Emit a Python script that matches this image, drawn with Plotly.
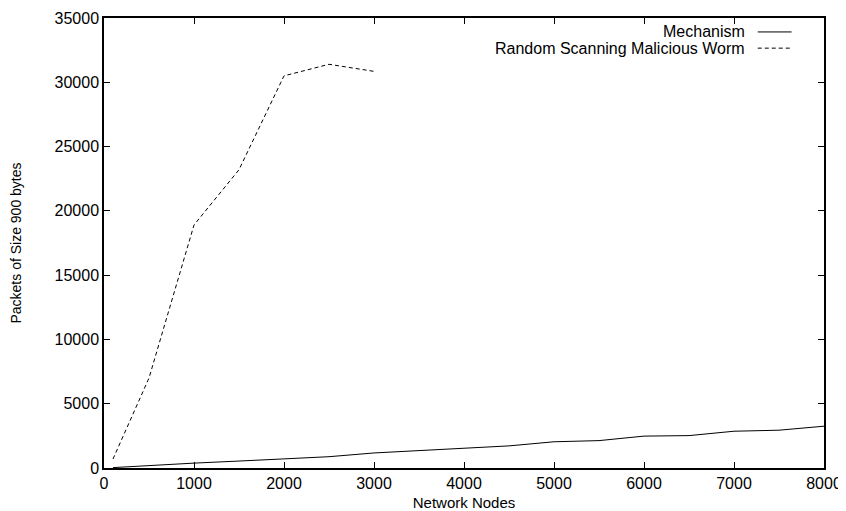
import plotly.graph_objects as go

nodes = [100, 500, 1000, 1500, 2000, 2500, 3000, 3500, 4000, 4500, 5000, 5500, 6000, 6500, 7000, 7500, 8000]
mechanism = [30, 200, 380, 540, 720, 880, 1170, 1340, 1560, 1720, 2040, 2130, 2480, 2520, 2860, 2940, 3250]

worm_nodes = [100, 500, 1000, 1500, 2000, 2500, 3000]
worm = [700, 7000, 18900, 23200, 30500, 31400, 30850]

x_ticks = [0, 1000, 2000, 3000, 4000, 5000, 6000, 7000, 8000]
y_ticks = [0, 5000, 10000, 15000, 20000, 25000, 30000, 35000]

FONT = "Liberation Sans, Arial, Helvetica, sans-serif"

fig = go.Figure()
fig.add_trace(go.Scatter(x=nodes, y=mechanism, mode="lines", name="Mechanism",
                         line=dict(color="black", width=1)))
fig.add_trace(go.Scatter(x=worm_nodes, y=worm, mode="lines", name="Random Scanning Malicious Worm",
                         line=dict(color="black", width=1, dash="4px,3px")))

axis_common = dict(showgrid=False, zeroline=False, showline=True, linecolor="black", linewidth=1.5,
                   mirror="ticks", ticks="inside", ticklen=6, tickwidth=1, tickcolor="black",
                   automargin=False,
                   tickfont=dict(family=FONT, size=16, color="black"))

# the page body adds an 8px offset, so the figure is sized 838x503
fig.update_layout(
    width=838, height=503,
    margin=dict(l=96, r=22, t=10, b=43),
    paper_bgcolor="white", plot_bgcolor="white",
    showlegend=False,
    font=dict(family=FONT, size=15, color="black"),
    xaxis=dict(range=[0, 8000], tickvals=x_ticks, ticktext=[str(v) for v in x_ticks],
               title=dict(text="Network Nodes", font=dict(family=FONT, size=15), standoff=7),
               **axis_common),
    yaxis=dict(range=[0, 35000], tickvals=y_ticks, ticktext=[str(v) for v in y_ticks],
               title=dict(text="Packets of Size 900 bytes", font=dict(family=FONT, size=14), standoff=31),
               **axis_common),
)

# legend drawn gnuplot-style: text right-aligned, sample line to the right
legend_entries = [("Mechanism", "solid"), ("Random Scanning Malicious Worm", "4px,3px")]
for i, (label, dash) in enumerate(legend_entries):
    yp = 0.969 - i * 0.036
    fig.add_annotation(xref="paper", yref="paper", x=0.893, y=yp, text=label, showarrow=False,
                       xanchor="right", yanchor="middle", font=dict(family=FONT, size=16, color="black"))
    fig.add_shape(type="line", xref="paper", yref="paper", x0=0.908, x1=0.955, y0=yp, y1=yp,
                  line=dict(color="black", width=1, dash=dash))

fig.write_html("out.html")
